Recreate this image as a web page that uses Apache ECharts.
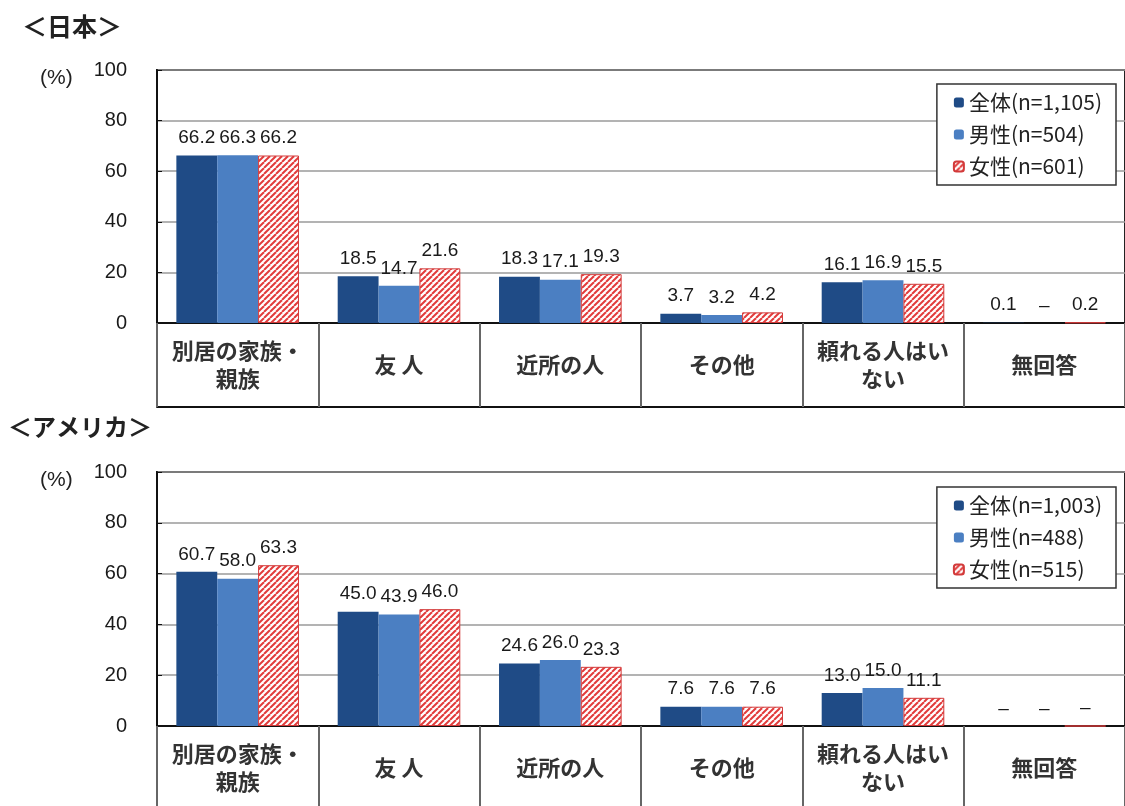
<!DOCTYPE html>
<html>
<head>
<meta charset="utf-8">
<script src="https://cdn.jsdelivr.net/npm/echarts@6/dist/echarts.min.js"></script>
<style>
  html, body { margin: 0; padding: 0; background: #fff; }
  #chart { width: 1125px; height: 806px; }
</style>
</head>
<body>
<div id="chart"></div>
<script>
// Categories of people the respondent can rely on
const categories = ['別居の家族・\n親族', '友 人', '近所の人', 'その他', '頼れる人はい\nない', '無回答'];

// Japan (%), null = no answer recorded ("-")
const jpNames = ['全体(n=1,105)', '男性(n=504)', '女性(n=601)'];
const jpTotal = [66.2, 18.5, 18.3, 3.7, 16.1, 0.1];
const jpMale = [66.3, 14.7, 17.1, 3.2, 16.9, null];
const jpFemale = [66.2, 21.6, 19.3, 4.2, 15.5, 0.2];

// United States (%)
const usNames = ['全体(n=1,003)', '男性(n=488)', '女性(n=515)'];
const usTotal = [60.7, 45.0, 24.6, 7.6, 13.0, null];
const usMale = [58.0, 43.9, 26.0, 7.6, 15.0, null];
const usFemale = [63.3, 46.0, 23.3, 7.6, 11.1, null];

const yMin = 0, yMax = 100, yStep = 20;

// Red diagonal hatch used for the female series
function hatchPattern() {
  const s = 6;
  const c = document.createElement('canvas');
  c.width = s; c.height = s;
  const g = c.getContext('2d');
  g.fillStyle = '#ffffff';
  g.fillRect(0, 0, s, s);
  g.strokeStyle = '#e23b3b';
  g.lineWidth = 2;
  for (const o of [-s, 0, s]) {
    g.beginPath();
    g.moveTo(o, s);
    g.lineTo(o + s, 0);
    g.stroke();
  }
  return c;
}
const hatch = { image: hatchPattern(), repeat: 'repeat' };

const styles = [
  { color: '#1f4b86' },
  { color: '#4b7fc2' },
  { color: hatch, borderColor: '#d23a3a', borderWidth: 1 }
];

const labelFont = 'Liberation Sans, Arial, sans-serif';
const cjkFont = '"Noto Sans CJK JP", "Noto Sans", sans-serif';

function toData(values) {
  return values.map(v => (v === null ? { value: 0, missing: true } : v));
}

function makeSeries(names, groups, axisIndex) {
  return groups.map((vals, i) => ({
    name: names[i],
    type: 'bar',
    xAxisIndex: axisIndex * 2,
    yAxisIndex: axisIndex,
    data: toData(vals),
    barGap: '0%',
    barCategoryGap: '24%',
    itemStyle: styles[i],
    label: {
      show: true,
      position: 'top',
      distance: 8,
      fontFamily: labelFont,
      fontSize: 19,
      color: '#1a1a1a',
      formatter: p => (p.data && p.data.missing ? '–' : Number(p.value).toFixed(1))
    }
  }));
}

function gridCfg(top, height) {
  return {
    left: 157, top: top, width: 972, height: height,
    show: true, borderColor: '#222', borderWidth: 2, backgroundColor: 'transparent'
  };
}

function xAxes(gridIndex) {
  return [
    {
      gridIndex: gridIndex, type: 'category', data: categories,
      axisLine: { lineStyle: { color: '#111', width: 2 } },
      axisTick: { show: true, alignWithLabel: false, length: 84, lineStyle: { color: '#666', width: 2 } },
      axisLabel: {
        margin: 42, verticalAlign: 'middle', interval: 0,
        fontFamily: cjkFont, fontSize: 22, lineHeight: 28, fontWeight: 'bold', color: '#333'
      }
    },
    {
      gridIndex: gridIndex, type: 'category', data: categories, position: 'bottom', offset: 84,
      axisLine: { lineStyle: { color: '#111', width: 2 } },
      axisTick: { show: false }, axisLabel: { show: false }
    }
  ];
}

function yAxis(gridIndex) {
  return {
    gridIndex: gridIndex, type: 'value', min: yMin, max: yMax, interval: yStep,
    axisLine: { show: true, lineStyle: { color: '#111', width: 2 } },
    axisTick: { show: true, inside: true, length: 5, lineStyle: { color: '#111' } },
    axisLabel: { margin: 30, fontFamily: labelFont, fontSize: 20, color: '#1a1a1a' },
    splitLine: { lineStyle: { color: '#9a9a9a', width: 1.5 } }
  };
}

function legendCfg(names, top) {
  return {
    data: names, orient: 'vertical', right: 9, top: top,
    backgroundColor: '#fff', borderColor: '#333', borderWidth: 1.5,
    padding: [8, 14, 8, 16], itemGap: 11, itemWidth: 10, itemHeight: 10,
    textStyle: { fontFamily: cjkFont, fontSize: 21, color: '#222' },
    selectedMode: false
  };
}

function text(str, left, top, size, weight, font) {
  return {
    type: 'text', left: left, top: top,
    style: { text: str, fontFamily: font || cjkFont, fontSize: size, fontWeight: weight, fill: '#222' }
  };
}

const chart = echarts.init(document.getElementById('chart'));
chart.setOption({
  animation: false,
  backgroundColor: '#fff',
  grid: [gridCfg(70, 253), gridCfg(472, 254)],
  xAxis: xAxes(0).concat(xAxes(1)),
  yAxis: [yAxis(0), yAxis(1)],
  legend: [legendCfg(jpNames, 84), legendCfg(usNames, 487)],
  graphic: [
    text('＜日本＞', 22, 14, 25, 'bold'),
    text('(%)', 40, 68, 21, 'normal', labelFont),
    text('＜アメリカ＞', 8, 415, 24, 'bold'),
    text('(%)', 40, 470, 21, 'normal', labelFont)
  ],
  series: makeSeries(jpNames, [jpTotal, jpMale, jpFemale], 0)
    .concat(makeSeries(usNames, [usTotal, usMale, usFemale], 1))
});
</script>
</body>
</html>
